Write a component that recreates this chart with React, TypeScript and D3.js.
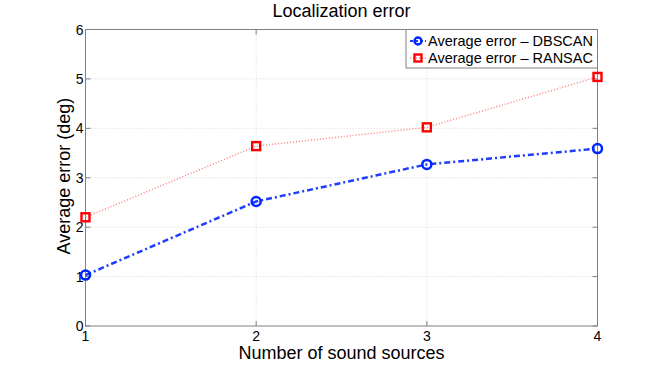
import * as d3 from 'd3'

const sources = [1, 2, 3, 4]
const dbscanErr = [1.03, 2.52, 3.27, 3.59]
const ransacErr = [2.2, 3.64, 4.02, 5.04]
const yTicks = [0, 1, 2, 3, 4, 5, 6]
const xTicks = [1, 2, 3, 4]
const legendLabels = ['Average error – DBSCAN', 'Average error – RANSAC']

const W = 660
const H = 367
const FONT = '"Liberation Sans", Arial, Helvetica, sans-serif'

export default function App() {
  const left = 85.5
  const right = 597.5
  const top = 29.5
  const bottom = 326

  const x = d3.scaleLinear().domain([1, 4]).range([left, right])
  const y = d3.scaleLinear().domain([0, 6]).range([bottom, top])

  const line = d3.line<number>()
    .x((_, i) => x(sources[i]))
    .y((d) => y(d))

  const axisColor = '#808080'

  return (
    <svg width={W} height={H} style={{ position: 'absolute', left: 0, top: 0, background: '#fff', fontFamily: FONT }}>
      {/* grid */}
      {yTicks.slice(1, -1).map((t) => (
        <line key={'gy' + t} x1={left} x2={right} y1={y(t)} y2={y(t)} stroke="#d8d8d8" strokeWidth={1} strokeDasharray="1,2" />
      ))}
      {xTicks.slice(1, -1).map((t) => (
        <line key={'gx' + t} x1={x(t)} x2={x(t)} y1={top} y2={bottom} stroke="#d8d8d8" strokeWidth={1} strokeDasharray="1,2" />
      ))}

      {/* box */}
      <rect x={left} y={top} width={right - left} height={bottom - top} fill="none" stroke={axisColor} strokeWidth={1} />

      {/* ticks */}
      {yTicks.map((t) => (
        <g key={'ty' + t}>
          <line x1={left} x2={left + 5} y1={y(t)} y2={y(t)} stroke={axisColor} />
          <line x1={right} x2={right - 5} y1={y(t)} y2={y(t)} stroke={axisColor} />
          <text x={left - 2} y={y(t) + 5} fontSize={14} textAnchor="end" fill="#000">{t}</text>
        </g>
      ))}
      {xTicks.map((t) => (
        <g key={'tx' + t}>
          <line x1={x(t)} x2={x(t)} y1={bottom} y2={bottom - 5} stroke={axisColor} />
          <line x1={x(t)} x2={x(t)} y1={top} y2={top + 5} stroke={axisColor} />
          <text x={x(t)} y={bottom + 15} fontSize={14} textAnchor="middle" fill="#000">{t}</text>
        </g>
      ))}

      {/* series */}
      <path d={line(ransacErr) ?? ''} fill="none" stroke="#ff8080" strokeWidth={1.5} strokeDasharray="1,2" />
      <path d={line(dbscanErr) ?? ''} fill="none" stroke="#1f3cff" strokeWidth={2.5} strokeDasharray="6,3,2,3" />
      {ransacErr.map((v, i) => (
        <rect key={'r' + i} x={x(sources[i]) - 4} y={y(v) - 4} width={8} height={8} fill="none" stroke="#ff0000" strokeWidth={2.4} />
      ))}
      {dbscanErr.map((v, i) => (
        <circle key={'d' + i} cx={x(sources[i])} cy={y(v)} r={4.5} fill="none" stroke="#0026ff" strokeWidth={2.5} />
      ))}

      {/* legend */}
      <g>
        <rect x={406} y={29.5} width={191.5} height={38.5} fill="#fff" stroke={axisColor} />
        <line x1={410} x2={426} y1={41} y2={41} stroke="#1f3cff" strokeWidth={2} strokeDasharray="3,2" />
        <circle cx={418} cy={41} r={3.5} fill="none" stroke="#0026ff" strokeWidth={2.4} />
        <text x={428} y={46} fontSize={14.5} fill="#000">{legendLabels[0]}</text>
        <line x1={410} x2={426} y1={58} y2={58} stroke="#ff8080" strokeWidth={1.5} strokeDasharray="1,2" />
        <rect x={414.5} y={54.5} width={7} height={7} fill="none" stroke="#ff0000" strokeWidth={2.4} />
        <text x={428} y={63} fontSize={14.5} fill="#000">{legendLabels[1]}</text>
      </g>

      {/* titles */}
      <text x={(left + right) / 2} y={17} fontSize={18} textAnchor="middle" fill="#000">Localization error</text>
      <text x={(left + right) / 2} y={359} fontSize={18} textAnchor="middle" fill="#000">Number of sound sources</text>
      <text transform={`translate(70,176) rotate(-90)`} fontSize={18} textAnchor="middle" fill="#000">Average error (deg)</text>
    </svg>
  )
}
